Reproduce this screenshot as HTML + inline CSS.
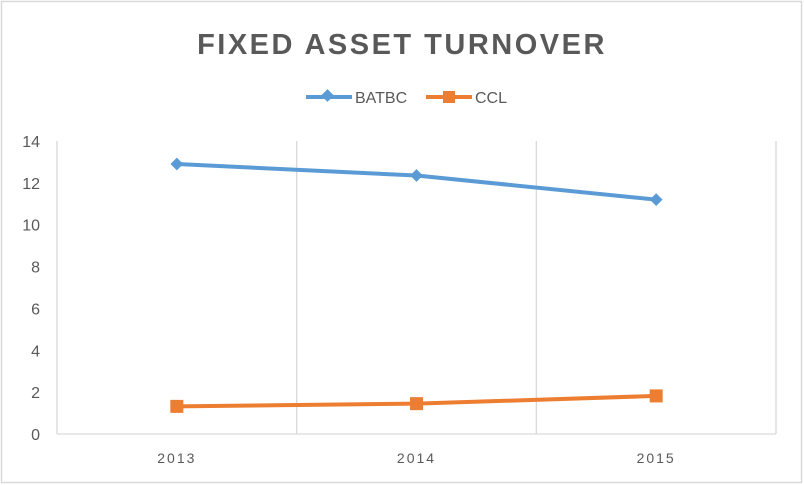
<!DOCTYPE html>
<html><head><meta charset="utf-8"><style>
body{margin:0;background:#fff;}
svg{display:block;font-family:"Liberation Sans",sans-serif;}
</style></head><body>
<svg width="804" height="485">
<rect x="1.5" y="1.5" width="800" height="481" fill="#fff" stroke="#d9d9d9" stroke-width="1.5"/>
<text x="402" y="54" text-anchor="middle" font-size="29" font-weight="bold" fill="#595959" letter-spacing="2.5">FIXED ASSET TURNOVER</text>
<g id="legend">
<g>
<line x1="306" y1="97" x2="352" y2="97" stroke="#5b9bd5" stroke-width="4"/>
<rect x="323" y="91" width="9" height="9" fill="#5b9bd5" transform="rotate(45 327.5 95.5)" />
<text x="355" y="103" font-size="16" fill="#595959">BATBC</text>
</g>
<g>
<line x1="426" y1="97" x2="472" y2="97" stroke="#ed7d31" stroke-width="4"/>
<rect x="443" y="91" width="12" height="12" fill="#ed7d31"/>
<text x="475" y="103" font-size="16" fill="#595959">CCL</text>
</g>
</g>
<g id="grid"></g>
<g id="series"></g>
<g id="axes"></g>
</svg>
<script>
const categories = ["2013","2014","2015"];
const batbc = [12.9, 12.35, 11.2];
const ccl = [1.32, 1.45, 1.82];
const yTicks = [0,2,4,6,8,10,12,14];

const NS="http://www.w3.org/2000/svg";
const pL=57, pR=776, pT=141, pB=434, yMax=14;
const band=(pR-pL)/categories.length;
const xs=i=>pL+band*(i+0.5);
const ys=v=>pB-(v/yMax)*(pB-pT);
function mk(tag,attrs,parent){const e=document.createElementNS(NS,tag);for(const k in attrs)e.setAttribute(k,attrs[k]);parent.appendChild(e);return e;}
const gridG=document.getElementById('grid'), axesG=document.getElementById('axes'), serG=document.getElementById('series');
for(let i=0;i<=categories.length;i++){
  const gl=mk('line',{x1:pL+band*i,x2:pL+band*i,y1:pT,y2:pB,stroke:'#d9d9d9','stroke-width':1.3},gridG);
  
  
}
const ax=mk('line',{x1:pL,x2:pR,y1:pB,y2:pB,stroke:'#d9d9d9','stroke-width':1.3},axesG);


yTicks.forEach(t=>{
  const tx=mk('text',{x:40,y:ys(t)+6,'text-anchor':'end','font-size':16,fill:'#595959'},axesG);
  tx.textContent=t;
  
  
});
categories.forEach((c,i)=>{
  const tx=mk('text',{x:xs(i),y:463,'text-anchor':'middle','font-size':14,fill:'#595959','letter-spacing':'2'},axesG);
  tx.textContent=c;
  
  
});
function drawLine(vals,color,name){
  const p=mk('polyline',{points:vals.map((v,i)=>xs(i)+','+ys(v)).join(' '),fill:'none',stroke:color,'stroke-width':4,'stroke-linejoin':'round'},serG);
  
  
}
drawLine(batbc,'#5b9bd5','batbc');
drawLine(ccl,'#ed7d31','ccl');
batbc.forEach((v,i)=>{
  const m=mk('rect',{x:xs(i)-4.5,y:ys(v)-4.5,width:9,height:9,fill:'#5b9bd5',transform:`rotate(45 ${xs(i)} ${ys(v)})`},serG);
  
  
});
ccl.forEach((v,i)=>{
  const m=mk('rect',{x:xs(i)-6.5,y:ys(v)-6.5,width:13,height:13,fill:'#ed7d31'},serG);
  
  
});
</script>
</body></html>
